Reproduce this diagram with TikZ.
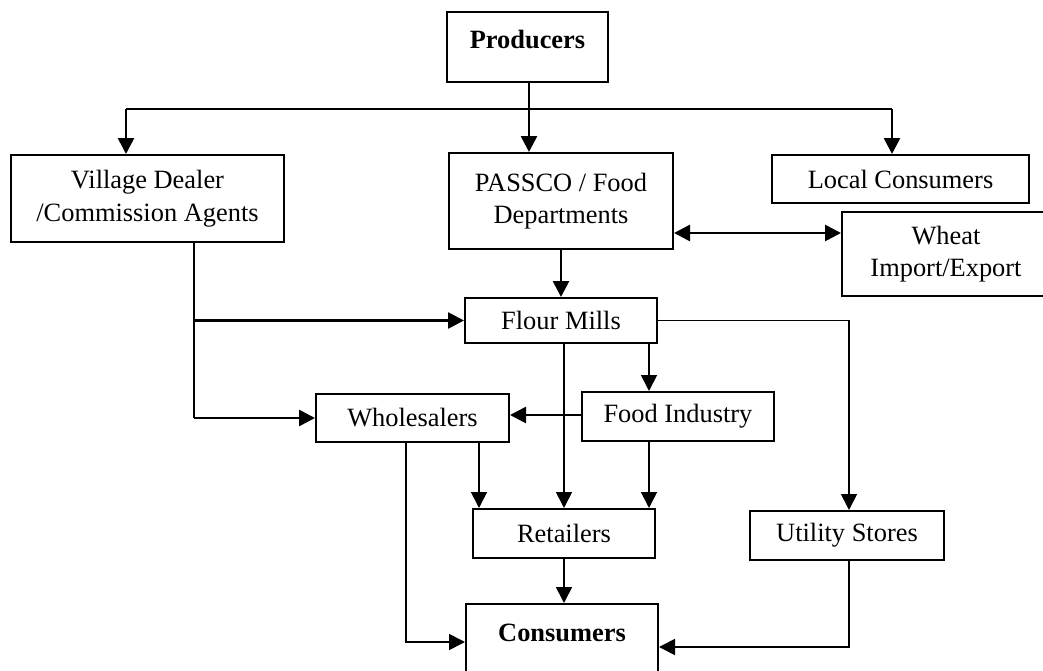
\documentclass[tikz,border=0pt]{standalone}
\usepackage{fontspec}
\setmainfont{Liberation Serif}
\usetikzlibrary{arrows.meta}
\begin{document}
\begin{tikzpicture}[x=0.75pt,y=-0.75pt,
  box/.style={draw,line width=1.5pt,inner sep=0pt,align=center,
    font=\fontsize{19.8}{24.5}\selectfont},
  tip/.tip={Triangle[length=12pt,width=12pt]},
  arr/.style={line width=2pt,-tip},
  tarr/.style={line width=1.3pt,-tip},
  ln/.style={line width=1.8pt},
  tln/.style={line width=1.2pt}]
\useasboundingbox (0,0) rectangle (1043,671);
% nodes
\node[box,minimum width=120.75pt,text height=27pt,text depth=25.5pt,font=\fontsize{19.8}{24.5}\selectfont\bfseries] (prod) at (527.5,47) {Producers};
\node[box,minimum width=204.75pt,minimum height=65.25pt] (vill) at (147.5,198.5) {Village Dealer\\/Commission Agents};
\node[box,minimum width=168pt,minimum height=72pt] (pass) at (561,201) {PASSCO / Food\\Departments};
\node[box,minimum width=192.75pt,minimum height=36pt] (local) at (900.5,179) {Local Consumers};
\node[box,minimum width=156pt,minimum height=63pt] (wheat) at (946,254) {Wheat\\Import/Export};
\node[box,minimum width=144pt,minimum height=33.75pt] (flour) at (561,320.5) {Flour Mills};
\node[box,minimum width=144.75pt,minimum height=36pt] (whole) at (412.5,418) {Wholesalers};
\node[box,minimum width=144pt,minimum height=36.75pt] (food) at (678,416.5) {Food Industry};
\node[box,minimum width=136.5pt,minimum height=36.75pt] (retail) at (564,533.5) {Retailers};
\node[box,minimum width=145.5pt,minimum height=36.75pt] (util) at (847,535.5) {Utility Stores};
\node[box,minimum width=144pt,anchor=north,text height=27.75pt,text depth=40pt,font=\fontsize{19.8}{24.5}\selectfont\bfseries] (cons) at (562,603) {Consumers};
% coordinates
\coordinate (hl) at (126,109);
\coordinate (hm) at (529,109);
\coordinate (hr) at (892,109);
\coordinate (v1) at (194,320.5);
\coordinate (v2) at (194,418);
\coordinate (fx) at (649,0);
\coordinate (wx) at (479,0);
\coordinate (ux) at (849,0);
\coordinate (d1) at (0,233);
\coordinate (d2) at (0,415);
\coordinate (c1) at (406,642);
\coordinate (c2) at (849,647);
% connectors
\draw[arr] (prod.south -| hm) -- (hm |- pass.north);
\draw[ln] (hl) -- (hr);
\draw[arr] (hl) -- (hl |- vill.north);
\draw[arr] (hr) -- (hr |- local.north);
\draw[line width=2pt,tip-tip] (pass.east |- d1) -- (wheat.west |- d1);
\draw[arr] (pass.south) -- (flour.north);
\draw[tln] (vill.south -| v1) -- (v2);
\draw[arr] (v1) -- (flour.west);
\draw[arr] (v2) -- (whole.west);
\draw[tarr] (flour.east) -- (flour.east -| ux) -- (util.north -| ux);
\draw[tarr] (flour.south -| fx) -- (food.north -| fx);
\draw[arr] (food.west |- d2) -- (whole.east |- d2);
\draw[tarr] (flour.south -| retail.north) -- (retail.north);
\draw[tarr] (whole.south -| wx) -- (retail.north -| wx);
\draw[tarr] (food.south -| fx) -- (retail.north -| fx);
\draw[tarr] (retail.south) -- (retail.south |- cons.north);
\draw[tarr] (whole.south -| c1) -- (c1) -- (cons.west |- c1);
\draw[tarr] (util.south -| c2) -- (c2) -- (cons.east |- c2);
\end{tikzpicture}
\end{document}
